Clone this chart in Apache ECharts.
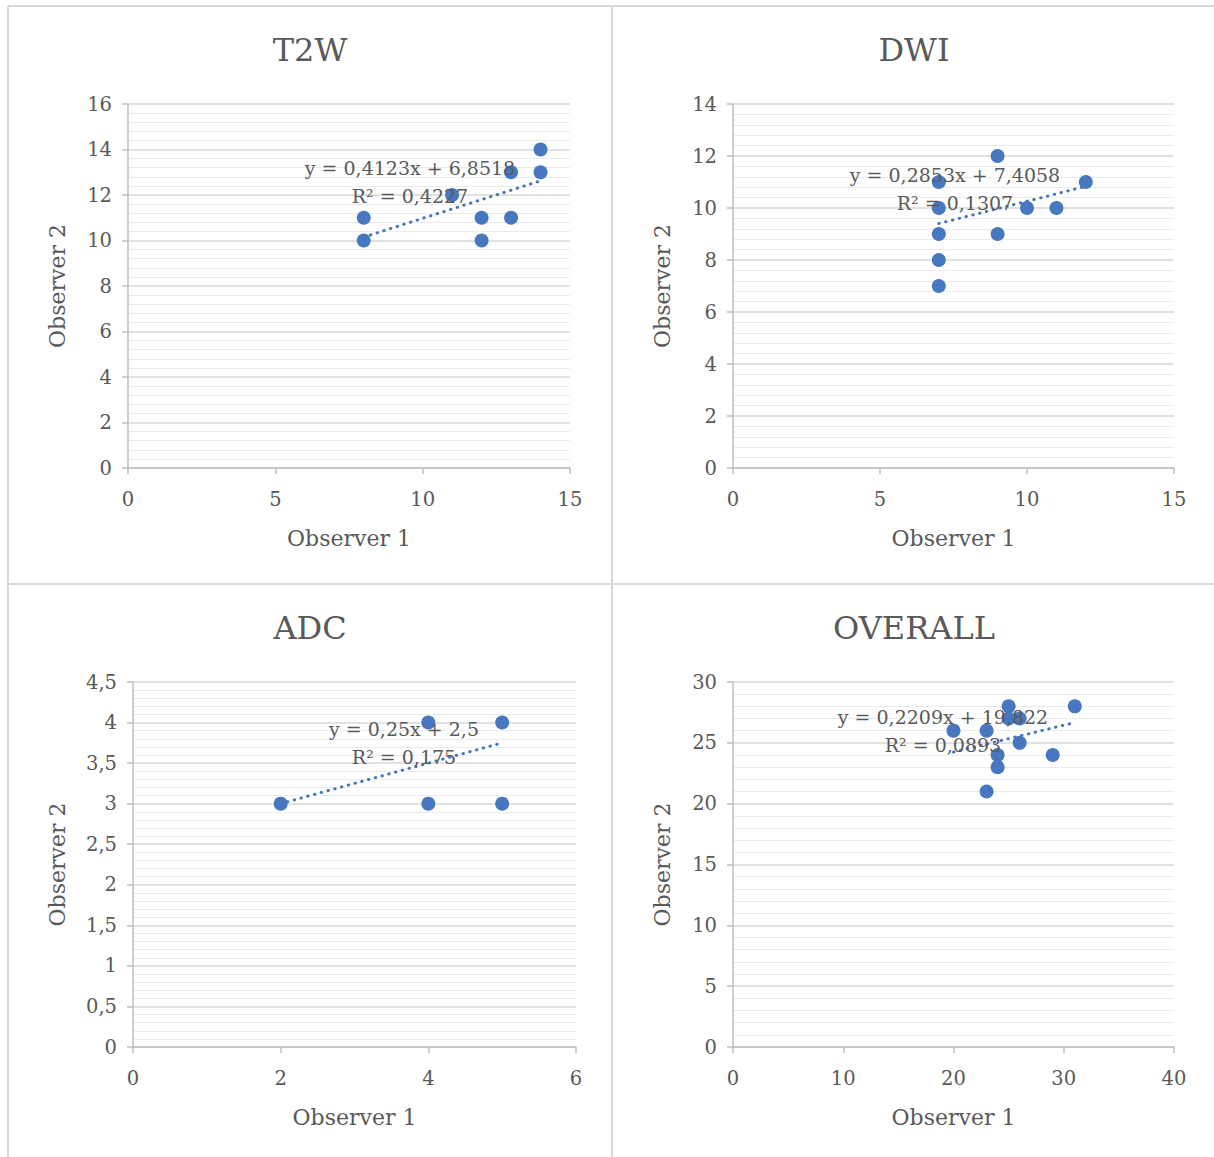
<!DOCTYPE html>
<html>
<head>
<meta charset="utf-8">
<script src="https://cdn.jsdelivr.net/npm/echarts@6/dist/echarts.min.js"></script>
<style>
  html, body { margin: 0; padding: 0; background: #fff; }
  #chart { width: 1214px; height: 1157px; }
</style>
</head>
<body>
<div id="chart"></div>
<script>
// ---- data ----
const panelTitles = ['T2W', 'DWI', 'ADC', 'OVERALL'];
const xAxisName = 'Observer 1';
const yAxisName = 'Observer 2';

const t2wX = [8, 8, 11, 12, 12, 13, 13, 14, 14];
const t2wY = [11, 10, 12, 11, 10, 13, 11, 14, 13];
const t2wFit = [0.4123, 6.8518, 0.4227];

const dwiX = [7, 7, 7, 7, 7, 9, 9, 10, 11, 12];
const dwiY = [11, 10, 9, 8, 7, 12, 9, 10, 10, 11];
const dwiFit = [0.2853, 7.4058, 0.1307];

const adcX = [2, 4, 4, 5, 5];
const adcY = [3, 4, 3, 4, 3];
const adcFit = [0.25, 2.5, 0.175];

const overallX = [20, 23, 25, 25, 26, 26, 24, 24, 23, 29, 31];
const overallY = [26, 26, 28, 27, 27, 25, 24, 23, 21, 24, 28];
const overallFit = [0.2209, 19.822, 0.0893];

// axis ranges [xMin, xMax, xInterval, yMin, yMax, yInterval]
const t2wAxes = [0, 15, 5, 0, 16, 2];
const dwiAxes = [0, 15, 5, 0, 14, 2];
const adcAxes = [0, 6, 2, 0, 4.5, 0.5];
const overallAxes = [0, 40, 10, 0, 30, 5];

// ---- layout / style ----
const FONT = 'DejaVu Serif';
const TXT = '#595959';
const BLUE = '#4677BF';
const grids = [
  { left: 128, top: 104, width: 442, height: 364 },
  { left: 733, top: 104, width: 441, height: 364 },
  { left: 133, top: 682, width: 443, height: 365 },
  { left: 733, top: 682, width: 441, height: 365 }
];
const titlePos = [[310, 50], [914, 50], [310, 628], [914, 628]];
const labelPos = [[410, 168], [955, 175], [404, 729], [943, 717]];
const yNameGap = [60, 60, 65, 60];

const panels = [
  [t2wX, t2wY, t2wFit, t2wAxes],
  [dwiX, dwiY, dwiFit, dwiAxes],
  [adcX, adcY, adcFit, adcAxes],
  [overallX, overallY, overallFit, overallAxes]
];

const comma = v => String(v).replace('.', ',');

const xAxes = [], yAxes = [], series = [], graphics = [];

panels.forEach((p, i) => {
  const [xs, ys, fit, ax] = p;
  xAxes.push({
    type: 'value', gridIndex: i, min: ax[0], max: ax[1], interval: ax[2],
    splitLine: { show: false },
    axisLine: { show: true, onZero: false, lineStyle: { color: '#bfbfbf', width: 1.5 } },
    axisTick: { show: true, length: 6, lineStyle: { color: '#bfbfbf', width: 1.5 } },
    axisLabel: { fontFamily: FONT, fontSize: 19.5, color: TXT, margin: 21, formatter: comma },
    name: xAxisName, nameLocation: 'middle', nameGap: 59,
    nameTextStyle: { fontFamily: FONT, fontSize: 22, color: TXT }
  });
  yAxes.push({
    type: 'value', gridIndex: i, min: ax[3], max: ax[4], interval: ax[5],
    splitLine: { show: true, lineStyle: { color: '#d9d9d9', width: 1.5 } },
    minorTick: { show: false, splitNumber: 5 },
    minorSplitLine: { show: true, lineStyle: { color: '#ebebeb', width: 1 } },
    axisLine: { show: true, onZero: false, lineStyle: { color: '#bfbfbf', width: 1.5 } },
    axisTick: { show: true, length: 6, lineStyle: { color: '#bfbfbf', width: 1.5 } },
    axisLabel: { fontFamily: FONT, fontSize: 19.5, color: TXT, margin: 16, formatter: comma },
    name: yAxisName, nameLocation: 'middle', nameGap: yNameGap[i], nameRotate: 90,
    nameTextStyle: { fontFamily: FONT, fontSize: 22, color: TXT }
  });
  // trend line from regression coefficients over data x-range
  const x0 = Math.min(...xs), x1 = Math.max(...xs);
  series.push({
    type: 'line', xAxisIndex: i, yAxisIndex: i, symbol: 'none', silent: true,
    data: [[x0, fit[0] * x0 + fit[1]], [x1, fit[0] * x1 + fit[1]]],
    lineStyle: { color: BLUE, width: 3, type: [0.5, 6.5], cap: 'round' },
    z: 3
  });
  series.push({
    type: 'scatter', xAxisIndex: i, yAxisIndex: i, symbolSize: 14,
    itemStyle: { color: BLUE, opacity: 1 },
    data: xs.map((x, k) => [x, ys[k]]),
    z: 2
  });
  graphics.push({
    type: 'text', x: titlePos[i][0], y: titlePos[i][1], z: 10,
    style: { text: panelTitles[i], fill: TXT, font: '32px "' + FONT + '"', textAlign: 'center', textVerticalAlign: 'middle' }
  });
  graphics.push({
    type: 'text', x: labelPos[i][0], y: labelPos[i][1], z: 10,
    style: { text: 'y = ' + comma(fit[0]) + 'x + ' + comma(fit[1]), fill: TXT, font: '19px "' + FONT + '"', textAlign: 'center', textVerticalAlign: 'middle' }
  });
  graphics.push({
    type: 'text', x: labelPos[i][0], y: labelPos[i][1] + 28, z: 10,
    style: { text: 'R² = ' + comma(fit[2]), fill: TXT, font: '19px "' + FONT + '"', textAlign: 'center', textVerticalAlign: 'middle' }
  });
});

// panel borders
const BORDER = { stroke: '#d9d9d9', lineWidth: 2 };
graphics.push({ type: 'line', shape: { x1: 8, y1: 6, x2: 1214, y2: 6 }, style: BORDER });
graphics.push({ type: 'line', shape: { x1: 8, y1: 6, x2: 8, y2: 1157 }, style: BORDER });
graphics.push({ type: 'line', shape: { x1: 612, y1: 6, x2: 612, y2: 1157 }, style: BORDER });
graphics.push({ type: 'line', shape: { x1: 8, y1: 584, x2: 1214, y2: 584 }, style: BORDER });

const chart = echarts.init(document.getElementById('chart'), null, { renderer: 'svg' });
chart.setOption({
  animation: false,
  backgroundColor: '#ffffff',
  textStyle: { fontFamily: FONT },
  grid: grids,
  xAxis: xAxes,
  yAxis: yAxes,
  series: series,
  graphic: graphics
});
</script>
</body>
</html>
